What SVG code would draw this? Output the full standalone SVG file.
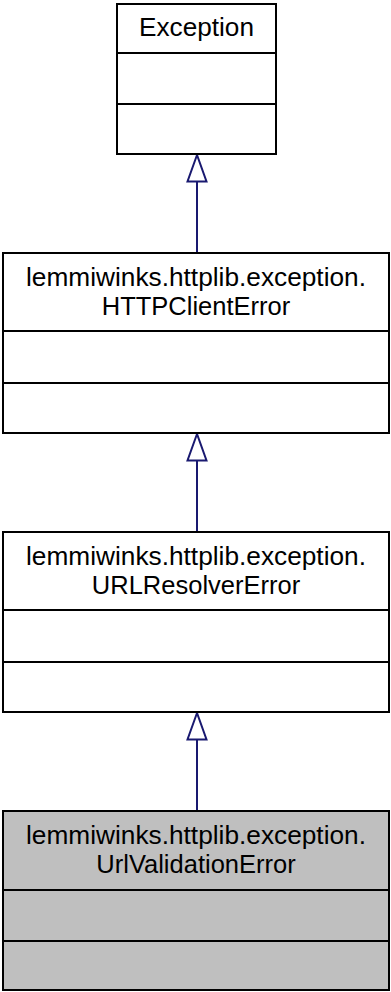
<svg xmlns="http://www.w3.org/2000/svg" width="391" height="992" viewBox="0 0 391 992">
<style>
.box{fill:#ffffff;stroke:#000000;stroke-width:2}
.cur{fill:#bfbfbf}
.div{stroke:#000000;stroke-width:2}
.lbl{font-family:"Liberation Sans",Arial,Helvetica,sans-serif;font-size:25.5px;fill:#000000;text-anchor:middle}
.edge{stroke:#191970;stroke-width:2;fill:none}
.head{fill:#ffffff;stroke:#191970;stroke-width:2}
</style>
<rect width="391" height="992" fill="#ffffff"/>
<g id="connectors">
<line class="edge" x1="197" y1="182" x2="197" y2="253"/>
<polygon class="head" points="197,155 187.5,181.5 206.5,181.5"/>
<line class="edge" x1="197" y1="461" x2="197" y2="532"/>
<polygon class="head" points="197,434 187.5,460.5 206.5,460.5"/>
<line class="edge" x1="197" y1="740" x2="197" y2="811"/>
<polygon class="head" points="197,713 187.5,739.5 206.5,739.5"/>
</g>
<g id="node-exception">
<rect class="box" x="117" y="4" width="159" height="150"/>
<line class="div" x1="117" y1="53" x2="276" y2="53"/>
<line class="div" x1="117" y1="104" x2="276" y2="104"/>
<text class="lbl" x="196.5" y="36" textLength="115" lengthAdjust="spacingAndGlyphs">Exception</text>
</g>
<g id="node-httpclienterror">
<rect class="box" x="3" y="253" width="386" height="180"/>
<line class="div" x1="3" y1="331" x2="389" y2="331"/>
<line class="div" x1="3" y1="383" x2="389" y2="383"/>
<text class="lbl" x="196" y="285.5" textLength="340" lengthAdjust="spacingAndGlyphs">lemmiwinks.httplib.exception.</text>
<text class="lbl" x="196" y="315">HTTPClientError</text>
</g>
<g id="node-urlresolvererror">
<rect class="box" x="3" y="532" width="386" height="180"/>
<line class="div" x1="3" y1="610" x2="389" y2="610"/>
<line class="div" x1="3" y1="662" x2="389" y2="662"/>
<text class="lbl" x="196" y="564.5" textLength="340" lengthAdjust="spacingAndGlyphs">lemmiwinks.httplib.exception.</text>
<text class="lbl" x="196" y="594">URLResolverError</text>
</g>
<g id="node-urlvalidationerror">
<rect class="box cur" x="3" y="811" width="386" height="179"/>
<line class="div" x1="3" y1="890" x2="389" y2="890"/>
<line class="div" x1="3" y1="941" x2="389" y2="941"/>
<text class="lbl" x="196" y="843.5" textLength="340" lengthAdjust="spacingAndGlyphs">lemmiwinks.httplib.exception.</text>
<text class="lbl" x="196" y="873">UrlValidationError</text>
</g>
</svg>
